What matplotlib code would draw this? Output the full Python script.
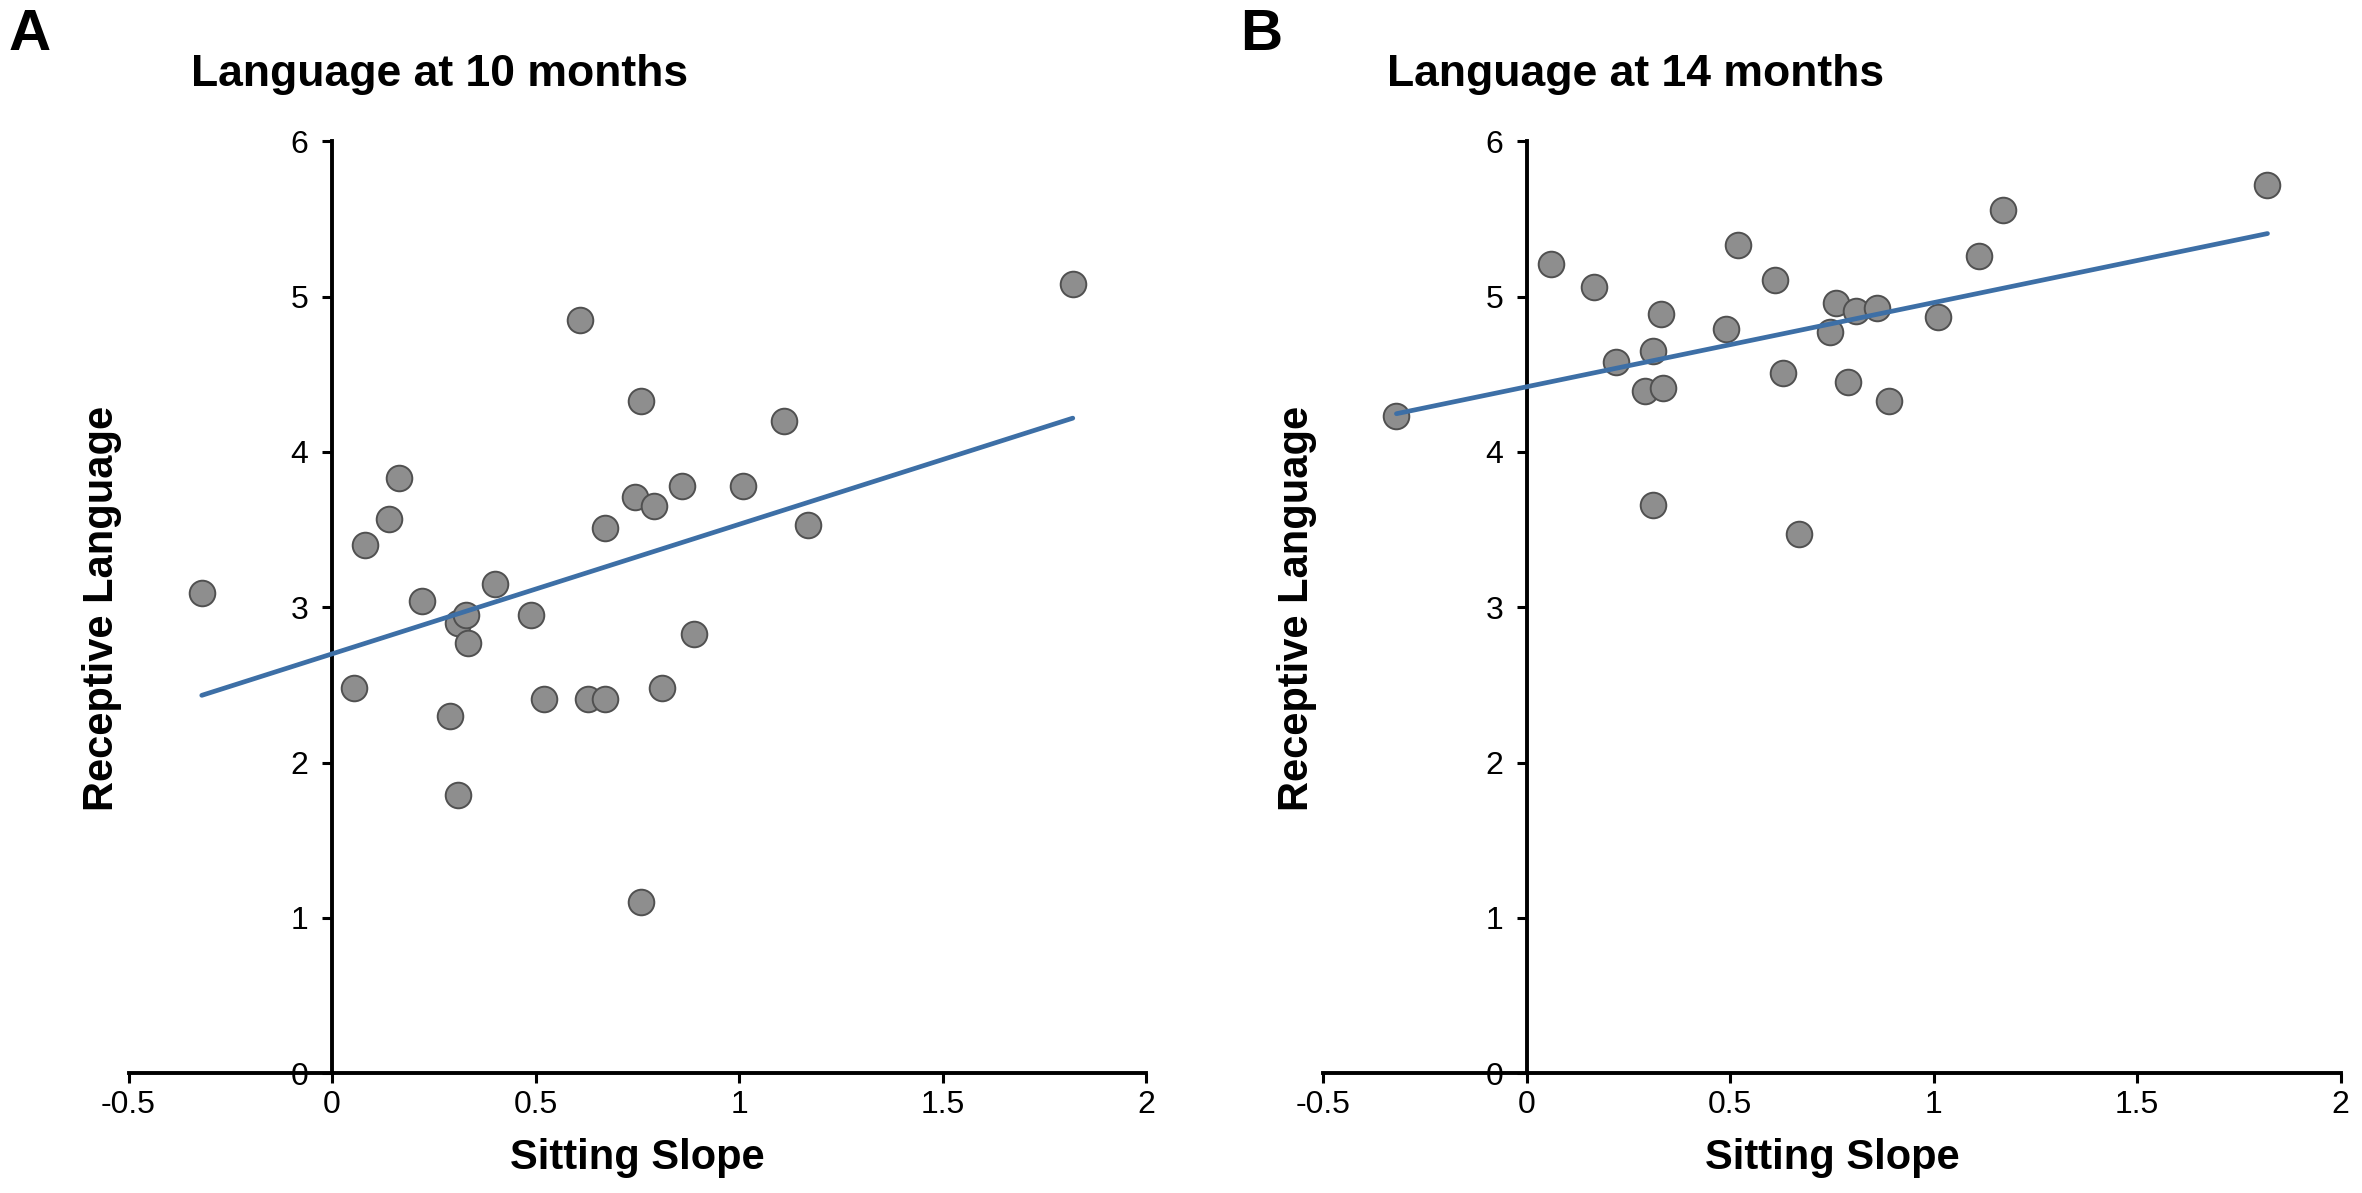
import numpy as np
import matplotlib
matplotlib.use('Agg')
import matplotlib.pyplot as plt

plt.rcParams['font.family'] = ['Liberation Sans', 'DejaVu Sans']

#Panel A - language at 10 months
slope_a = [-0.32, 0.055, 0.08, 0.14, 0.165, 0.22, 0.29, 0.31, 0.31, 0.33,
           0.335, 0.40, 0.49, 0.52, 0.61, 0.63, 0.67, 0.67, 0.745, 0.76,
           0.76, 0.79, 0.81, 0.86, 0.89, 1.01, 1.11, 1.17, 1.82]
lang_a = [3.09, 2.48, 3.40, 3.57, 3.83, 3.04, 2.30, 2.90, 1.79, 2.95,
          2.77, 3.15, 2.95, 2.41, 4.85, 2.41, 2.41, 3.51, 3.71, 4.33,
          1.10, 3.65, 2.48, 3.78, 2.83, 3.78, 4.20, 3.53, 5.08]
fit_a = (2.70, 0.834)   # intercept, slope

#Panel B - language at 14 months
slope_b = [-0.32, 0.06, 0.165, 0.22, 0.29, 0.31, 0.335, 0.33, 0.31, 0.49,
           0.52, 0.61, 0.63, 0.67, 0.745, 0.76, 0.81, 0.79, 0.86, 0.89,
           1.01, 1.11, 1.17, 1.82]
lang_b = [4.23, 5.21, 5.06, 4.58, 4.39, 4.65, 4.41, 4.89, 3.66, 4.79,
          5.33, 5.11, 4.51, 3.47, 4.77, 4.96, 4.91, 4.45, 4.93, 4.33,
          4.87, 5.26, 5.56, 5.72]
fit_b = (4.42, 0.542)

titles = ['Language at 10 months', 'Language at 14 months']
letters = ['A', 'B']
xticks = [-0.5, 0, 0.5, 1, 1.5, 2]
xtick_labels = ['-0.5', '0', '0.5', '1', '1.5', '2']
yticks = [0, 1, 2, 3, 4, 5, 6]

W, H = 2362, 1193
fig = plt.figure(figsize=(W / 100, H / 100), dpi=100)

panels = [(slope_a, lang_a, fit_a), (slope_b, lang_b, fit_b)]
lefts = [128.5, 1323.2]
title_x = [191, 1387]
letter_x = [9, 1240]

for i, (xs, ys, fit) in enumerate(panels):
    ax = fig.add_axes([lefts[i] / W, 0.1004, 0.4308, 0.7811])
    ax.scatter(xs, ys, s=340, color='#8e8e8e', edgecolor='#505050',
               linewidth=1.4, zorder=3)
    lx = np.array([min(xs), max(xs)])
    ax.plot(lx, fit[0] + fit[1] * lx, color='#3d6fa6', linewidth=3.4,
            solid_capstyle='round', zorder=4)

    ax.set_xlim(-0.5, 2)
    ax.set_ylim(0, 6)
    ax.spines['left'].set_position(('data', 0))
    ax.spines['top'].set_visible(False)
    ax.spines['right'].set_visible(False)
    ax.spines['left'].set_linewidth(2.8)
    ax.spines['bottom'].set_linewidth(2.8)
    ax.spines['left'].set_zorder(2)
    ax.set_xticks(xticks)
    ax.set_xticklabels(xtick_labels)
    ax.set_yticks(yticks)
    ax.tick_params(axis='both', direction='out', length=7, width=2.2,
                   labelsize=23)
    ax.tick_params(axis='x', pad=5)
    ax.tick_params(axis='y', pad=10)
    ax.patch.set_alpha(0)

    ax.set_xlabel('Sitting Slope', fontsize=30, fontweight='bold', labelpad=13)
    fig.text((lefts[i] - 26) / W, 0.49, 'Receptive Language', rotation=90,
             fontsize=30, fontweight='bold', ha='center', va='center')

    fig.text(title_x[i] / W, 1 - 86 / H, titles[i], fontsize=32,
             fontweight='bold', ha='left', va='baseline')
    fig.text(letter_x[i] / W, 1 - 8 / H, letters[i], fontsize=42,
             fontweight='bold', ha='left', va='top')

fig.savefig('out.png', dpi=100, facecolor='white')
